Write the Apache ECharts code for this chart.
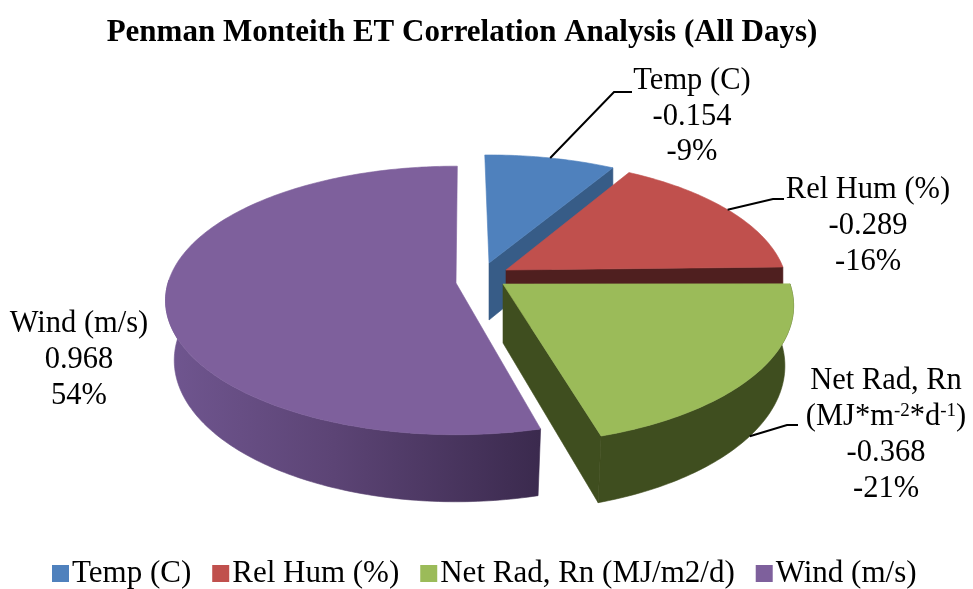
<!DOCTYPE html>
<html><head><meta charset="utf-8">
<script src="https://cdn.jsdelivr.net/npm/echarts@6/dist/echarts.min.js"></script>
<style>html,body{margin:0;padding:0;background:#fff}#c{width:973px;height:589px}</style>
</head><body><div id="c"></div>
<script>
// ---- data ----
const categories = ['Temp (C)', 'Rel Hum (%)', 'Net Rad, Rn (MJ/m2/d)', 'Wind (m/s)'];
const values = [-0.154, -0.289, -0.368, 0.968];
const labelNames = [['Temp (C)'], ['Rel Hum (%)'], ['Net Rad, Rn', '{a|(MJ*m}{s|-2}{a|*d}{s|-1}{a|)}'], ['Wind (m/s)']];
const titleText = 'Penman Monteith ET Correlation Analysis (All Days)';

// ---- styling and layout ----
const FONT = '"Liberation Serif","Times New Roman",serif';
const LABEL_PX = 30.5;
const topColors = ['#4f81bd', '#c0504d', '#9bbb59', '#7e609c'];
const sideColors = ['#375c87', '#4f1f1f', '#3f4e1f', null];
const geom = [
  {ax: 489, ay: 263, R: 280, ry: 125, p: .157, D: 57, bs: 1,   endFace: true,  trim: [0, 0]},
  {ax: 506, ay: 270, R: 278, ry: 128, p: .157, D: 57, bs: 1,   endFace: true,  trim: [0, 0]},
  {ax: 503, ay: 284, R: 287, ry: 135, p: .157, D: 59, bs: .97, endFace: true,  trim: [1.3, 0]},
  {ax: 456, ay: 283, R: 288, ry: 132, p: .13,  D: 59, bs: .97, endFace: false, trim: [2, 1.3]}
];
const labelLayout = [
  {x: 692, y: 81, lh: 35.5, elbow: [[614, 92], [632, 92]]},
  {x: 868, y: 190, lh: 36, elbow: [[773, 199], [784, 199]]},
  {x: 886, y: 381, lh: 36, elbow: [[787, 425], [798, 425]], onWall: true},
  {x: 79, y: 324, lh: 36, elbow: null}
];
const START_DEG = -1;

const total = values.reduce((s, v) => s + Math.abs(v), 0);
function rangeOf(i) {
  let a = START_DEG;
  for (let k = 0; k < i; k++) a += Math.abs(values[k]) / total * 360;
  return [a + geom[i].trim[0], a + Math.abs(values[i]) / total * 360 + geom[i].trim[1]];
}
function project(g, deg) {
  const t = deg * Math.PI / 180, u = Math.sin(t), v = -Math.cos(t), d = 1 - g.p * v;
  const x = g.ax + g.R * u / d, y = g.ay + g.ry * v / d, dep = g.D / (1 - .12 * v);
  return {x, y, v, bx: g.ax + (x - g.ax) * g.bs, by: y + dep};
}
function renderSlice(i) {
  return function (params, api) {
    const g = geom[i];
    const [a0, a1] = rangeOf(i);
    const span = a1 - a0;
    const n = Math.max(8, Math.round(span));
    const arc = [];
    for (let k = 0; k <= n; k++) arc.push(project(g, a0 + span * k / n));
    const top = [[g.ax, g.ay]].concat(arc.map(p => [p.x, p.y]));
    // only the near part of the rim shows a wall
    const near = arc.filter(p => p.v > -0.03);
    const wall = near.map(p => [p.x, p.y]).concat(near.slice().reverse().map(p => [p.bx, p.by]));
    const side = sideColors[i] || new echarts.graphic.LinearGradient(165, 0, 540, 0, [
      {offset: 0, color: '#705690'}, {offset: .45, color: '#5c4475'}, {offset: 1, color: '#3b2a4e'}
    ], true);
    const kids = [];
    const poly = (pts, fill) => kids.push({type: 'polygon', shape: {points: pts}, style: {fill: fill, stroke: fill, lineWidth: .6}});
    if (near.length > 1) poly(wall, side);
    if (g.endFace) {
      const e = arc[n];
      poly([[g.ax, g.ay], [e.x, e.y], [e.bx, e.by], [g.ax, g.ay + g.D]], side);
    }
    poly(top, topColors[i]);
    // leader line, anchored on the slice's mid-angle
    const lay = labelLayout[i];
    if (lay.elbow) {
      const m = project(g, (a0 + a1) / 2);
      const anchor = lay.onWall ? [m.bx, m.by] : [m.x, m.y];
      kids.push({type: 'polyline', shape: {points: [anchor].concat(lay.elbow)}, style: {stroke: '#000', lineWidth: 2, fill: 'none'}});
    }
    // label text
    const pct = Math.round(Math.abs(values[i]) / total * 100) * Math.sign(values[i]);
    const lines = labelNames[i].concat([String(values[i]), pct + '%']);
    lines.forEach((t, k) => kids.push({
      type: 'text',
      style: {
        text: t, x: lay.x, y: lay.y + k * lay.lh, align: 'center', verticalAlign: 'middle',
        font: LABEL_PX + 'px ' + FONT, fill: '#000',
        rich: {
          a: {font: LABEL_PX + 'px ' + FONT, fill: '#000'},
          s: {font: '19px ' + FONT, fill: '#000', verticalAlign: 'top', padding: [0, 0, 8, 0]}
        }
      }
    }));
    return {type: 'group', children: kids};
  };
}

const chart = echarts.init(document.getElementById('c'), null, {renderer: 'canvas'});
chart.setOption({
  animation: false,
  backgroundColor: '#fff',
  color: topColors,
  title: {
    text: titleText, left: 457, top: 12, textAlign: 'center',
    textStyle: {fontFamily: FONT, fontSize: 31, fontWeight: 'bold', color: '#000'}
  },
  legend: {
    data: categories, left: 47, top: 553, icon: 'rect', itemWidth: 17, itemHeight: 17, itemGap: 21,
    textStyle: {fontFamily: FONT, fontSize: 31, color: '#000', padding: [0, 0, 0, -2]}
  },
  series: categories.map((name, i) => ({
    type: 'custom', name, coordinateSystem: 'none', silent: true,
    itemStyle: {color: topColors[i]},
    data: [Math.abs(values[i])],
    renderItem: renderSlice(i)
  }))
});
</script></body></html>
